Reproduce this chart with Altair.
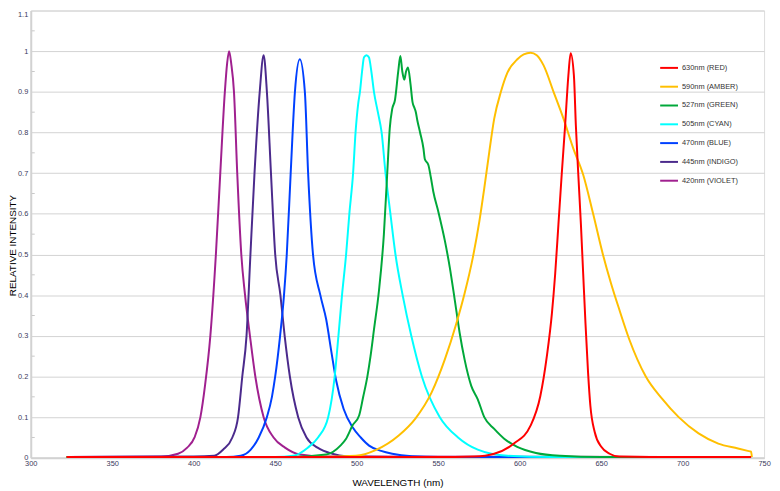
import altair as alt
import pandas as pd

# ---- data ----
series_names = ["630nm (RED)", "590nm (AMBER)", "527nm (GREEN)", "505nm (CYAN)",
                "470nm (BLUE)", "445nm (INDIGO)", "420nm (VIOLET)"]
series_colors = ["#ff0000", "#ffbf00", "#00a83a", "#00ffff", "#0040ff", "#4b2a8c", "#a0208f"]

violet_nm = [322, 380, 390.4, 396, 400.5, 404.1, 407, 410.2, 413.6, 416.3, 419.1, 420.5, 421.7, 423, 424.7,
             426.7, 429.2, 431.5, 434.5, 437.8, 442.9, 449, 456, 465.2, 480, 742]
violet_v = [0.002, 0.003, 0.01, 0.025, 0.05, 0.1, 0.18, 0.3, 0.5, 0.7, 0.9, 0.97, 1.0, 0.97, 0.9,
            0.7, 0.5, 0.4, 0.3, 0.2, 0.1, 0.05, 0.025, 0.008, 0.003, 0.002]

indigo_nm = [322, 400, 412.6, 418, 423.7, 427.2, 429.8, 432.4, 434.8, 437.3, 440.5, 442.9, 444.9, 447.4,
             450, 453.2, 455.8, 459, 464.1, 469.2, 476, 485, 493.5, 520, 742]
indigo_v = [0.002, 0.003, 0.005, 0.02, 0.05, 0.1, 0.2, 0.3, 0.5, 0.7, 0.9, 0.99, 0.9, 0.7,
            0.5, 0.4, 0.3, 0.2, 0.1, 0.05, 0.025, 0.01, 0.004, 0.002, 0.002]

blue_nm = [322, 420, 428.8, 435, 439.9, 444.9, 448, 450, 453, 455.4, 457.1, 459.5, 462.1, 465.1, 468.2,
           470.2, 473.2, 477.7, 481.3, 484.5, 487.4, 492, 497.5, 502.5, 507.6, 515, 521.8, 533.9, 550, 742]
blue_v = [0.002, 0.002, 0.005, 0.02, 0.05, 0.1, 0.15, 0.2, 0.3, 0.4, 0.5, 0.7, 0.9, 0.98, 0.9,
          0.7, 0.5, 0.4, 0.34, 0.26, 0.19, 0.12, 0.075, 0.05, 0.03, 0.017, 0.01, 0.004, 0.002, 0.002]

cyan_nm = [322, 450, 461, 470, 476.3, 482.5, 486.5, 488.8, 491, 493.5, 495.5, 497.8, 499.3, 500.9, 502,
           503.3, 504.5, 506, 507.5, 509, 510.6, 513, 515.3, 517.7, 520.7, 523.8, 528.2, 533.5, 540, 551,
           562.2, 574.3, 592.5, 620, 742]
cyan_v = [0.002, 0.002, 0.005, 0.025, 0.05, 0.1, 0.2, 0.3, 0.4, 0.5, 0.6, 0.7, 0.8, 0.87, 0.9,
          0.95, 0.985, 0.99, 0.985, 0.95, 0.9, 0.85, 0.8, 0.7, 0.6, 0.5, 0.4, 0.3, 0.2, 0.1,
          0.05, 0.02, 0.005, 0.002, 0.002]

green_nm = [322, 460, 481.3, 490, 493.5, 497.5, 501.5, 504, 506.6, 508.5, 510.6, 513.7, 516.7, 518.7, 520.3,
            521.8, 523.5, 525.5, 526.8, 528, 529.2, 530.3, 531.5, 533, 534.3, 535.5, 536.3, 537.2, 538.9,
            541, 541.8, 544, 545.5, 547, 550, 554.1, 557.1, 560.2, 563.2, 566.2, 570.3, 574.3, 578.3,
            584.4, 590.5, 598.5, 610, 625, 650, 742]
green_v = [0.002, 0.002, 0.008, 0.03, 0.047, 0.08, 0.104, 0.15, 0.201, 0.25, 0.315, 0.412, 0.55, 0.696, 0.81,
           0.858, 0.88, 0.95, 0.988, 0.95, 0.93, 0.95, 0.96, 0.92, 0.874, 0.86, 0.85, 0.83, 0.8,
           0.76, 0.735, 0.72, 0.69, 0.655, 0.607, 0.534, 0.469, 0.388, 0.307, 0.242, 0.177, 0.144, 0.1,
           0.071, 0.047, 0.027, 0.012, 0.005, 0.002, 0.002]

amber_nm = [322, 470, 499.5, 511.6, 525.8, 535.9, 546, 554.1, 561.2, 566.2, 571.3, 575.3, 578.3, 581.4,
            584.4, 588.5, 592.5, 598.6, 602.5, 606.7, 610.5, 614.7, 620.8, 626.9, 632.9, 639, 645.1, 651.1,
            656, 661.2, 667.3, 677.4, 687.5, 697.6, 709.8, 721.9, 734, 740, 742, 742.5]
amber_v = [0.002, 0.002, 0.005, 0.019, 0.055, 0.096, 0.161, 0.242, 0.331, 0.404, 0.493, 0.582, 0.663, 0.753,
           0.834, 0.9, 0.947, 0.98, 0.992, 0.996, 0.99, 0.965, 0.9, 0.834, 0.761, 0.696, 0.6, 0.5,
           0.43, 0.364, 0.291, 0.2, 0.145, 0.1, 0.06, 0.035, 0.023, 0.017, 0.015, 0.002]

red_nm = [322, 560, 572.3, 584.4, 596.5, 606.7, 612.7, 616.7, 619.8, 621.8, 623.8, 625.8, 627.9, 629.9,
          631.3, 633.3, 634.5, 636, 637.6, 639, 640.4, 642, 643.4, 646.1, 650.1, 655.2, 661.2, 680, 742]
red_v = [0.002, 0.002, 0.003, 0.01, 0.035, 0.079, 0.152, 0.25, 0.355, 0.452, 0.574, 0.696, 0.817, 0.94,
         0.995, 0.94, 0.817, 0.696, 0.574, 0.452, 0.331, 0.209, 0.128, 0.063, 0.027, 0.01, 0.003, 0.002, 0.002]

x_ticks = [300, 350, 400, 450, 500, 550, 600, 650, 700, 750]
y_ticks = [0, 0.1, 0.2, 0.3, 0.4, 0.5, 0.6, 0.7, 0.8, 0.9, 1.0, 1.1]
y_minor = [0.05, 0.15, 0.25, 0.35, 0.45, 0.55, 0.65, 0.75, 0.85, 0.95, 1.05]

# draw order: violet first ... red last (red on top)
draw = [("420nm (VIOLET)", violet_nm, violet_v), ("445nm (INDIGO)", indigo_nm, indigo_v),
        ("470nm (BLUE)", blue_nm, blue_v), ("505nm (CYAN)", cyan_nm, cyan_v),
        ("527nm (GREEN)", green_nm, green_v), ("590nm (AMBER)", amber_nm, amber_v),
        ("630nm (RED)", red_nm, red_v)]
rows = []
for name, xs, ys in draw:
    for i, (a, b) in enumerate(zip(xs, ys)):
        rows.append({"series": name, "nm": a, "v": b, "i": i})
df = pd.DataFrame(rows)

FONT = "Liberation Sans"
LBL = "#3a3a5c"
GRID = "#d2d2d2"

lines = alt.Chart(df).mark_line(strokeWidth=2, interpolate="monotone").encode(
    x=alt.X("nm:Q", scale=alt.Scale(domain=[300, 750], nice=False, zero=False),
            axis=alt.Axis(values=x_ticks, title="WAVELENGTH (nm)", grid=False, ticks=False,
                          labelFlush=False, labelOverlap=False,
                          labelFontSize=7.5, labelColor=LBL, labelFont=FONT, labelPadding=2,
                          titleFont=FONT, titleFontSize=10, titleFontWeight="normal",
                          titleColor="#000000", titlePadding=10,
                          domainColor=GRID, domainWidth=2)),
    y=alt.Y("v:Q", scale=alt.Scale(domain=[0, 1.1], nice=False),
            axis=alt.Axis(values=y_ticks, format="~g", title="RELATIVE INTENSITY", grid=True,
                          gridColor=GRID, gridWidth=1, ticks=False,
                          labelFlush=False, labelOverlap=False,
                          labelBaseline={"expr": "datum.value > 1.05 ? 'top' : 'middle'"},
                          labelFontSize=7.5, labelColor=LBL, labelFont=FONT, labelPadding=3,
                          titleFont=FONT, titleFontSize=10, titleFontWeight="normal",
                          titleColor="#000000", titleX=-15.5, titleY=237,
                          titleBaseline="alphabetic",
                          domainColor=GRID, domainWidth=2)),
    color=alt.Color("series:N", scale=alt.Scale(domain=series_names, range=series_colors),
                    legend=alt.Legend(title=None, orient="none", legendX=635, legendY=48,
                                      symbolType="stroke", symbolSize=324, symbolStrokeWidth=2,
                                      labelFont=FONT, labelFontSize=7.5, labelColor="#333333",
                                      labelOffset=3, rowPadding=5, padding=0)),
    order=alt.Order("i:Q"),
    detail="series:N",
)

minor = alt.Chart(pd.DataFrame({"m": y_minor})).mark_rule(color="#c8c8c8", strokeWidth=1).encode(
    y="m:Q", x=alt.value(1), x2=alt.value(4)
)

chart = alt.layer(lines, minor).properties(
    width=741, height=452,
    autosize=alt.AutoSizeParams(type="none"),
    padding={"left": 23, "top": 0, "right": 8, "bottom": 30},
).configure_view(stroke=GRID, strokeWidth=1).configure(background="white")

chart.save("out.html", embed_options={"renderer": "svg", "actions": False})
